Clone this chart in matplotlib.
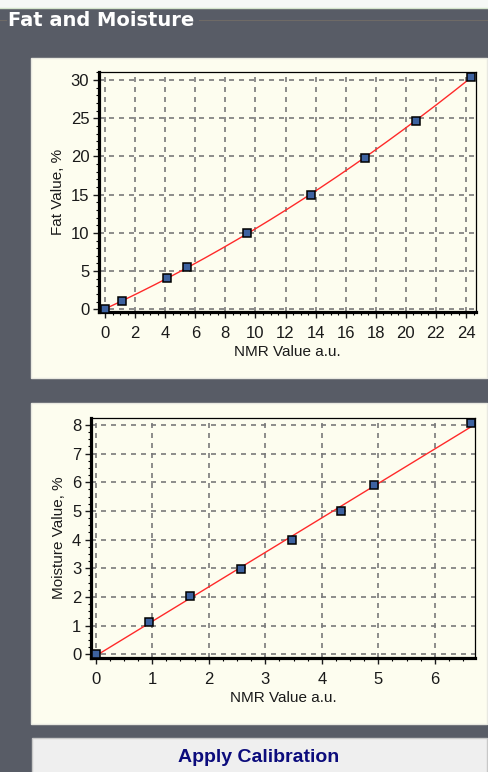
import matplotlib
matplotlib.use("Agg")
import matplotlib.pyplot as plt
import numpy as np
from matplotlib.patches import Rectangle
from matplotlib.lines import Line2D
from matplotlib.ticker import MultipleLocator

# ---- data ----
fat_nmr = [0.0, 1.15, 4.1, 5.47, 9.46, 13.68, 17.27, 20.66, 24.36]
fat_val = [0.0, 1.1, 4.1, 5.5, 9.95, 15.0, 19.85, 24.7, 30.4]
moist_nmr = [0.0, 0.94, 1.67, 2.575, 3.47, 4.34, 4.92, 6.64]
moist_val = [0.0, 1.12, 2.04, 2.96, 3.98, 5.0, 5.91, 8.08]
fat_xticks = [0, 2, 4, 6, 8, 10, 12, 14, 16, 18, 20, 22, 24]
fat_yticks = [0, 5, 10, 15, 20, 25, 30]
moist_xticks = [0, 1, 2, 3, 4, 5, 6]
moist_yticks = [0, 1, 2, 3, 4, 5, 6, 7, 8]

W, H = 489, 772
fig = plt.figure(figsize=(W / 100, H / 100), dpi=100)
fig.patch.set_facecolor('#585c66')

def px_rect(x0, y0, x1, y1, **kw):
    r = Rectangle((x0 / W, 1 - y1 / H), (x1 - x0) / W, (y1 - y0) / H,
                  transform=fig.transFigure, zorder=-10, **kw)
    fig.patches.append(r)

# top light strip
px_rect(0, 0, W, 8, facecolor='#f6f8f6', edgecolor='none')
fig.lines.append(Line2D([0, 1], [1 - 7.5 / H] * 2, transform=fig.transFigure,
                        color='#d4e4cc', lw=1, zorder=-9))
# group-box line
fig.lines.append(Line2D([0, 6 / W], [1 - 20 / H] * 2, transform=fig.transFigure,
                        color='#6e6a66', lw=0.8, zorder=-9))
fig.lines.append(Line2D([199 / W, 1], [1 - 20 / H] * 2, transform=fig.transFigure,
                        color='#6e6a66', lw=0.8, zorder=-9))
fig.text(8 / W, 1 - 21 / H, 'Fat and Moisture', color='white', fontsize=14,
         fontweight='bold', family='DejaVu Sans', va='center', ha='left')

# panels
px_rect(31, 58, 487, 378, facecolor='#fdfdef', edgecolor='#e8e8e0', lw=1)
px_rect(31, 403, 487, 724, facecolor='#fdfdef', edgecolor='#e8e8e0', lw=1)

# button
px_rect(32, 738, 487, 775, facecolor='#efefef', edgecolor='#c8c8c8', lw=1)
fig.text(259 / W, 1 - 757 / H, 'Apply Calibration', color='#0c0c7c', fontsize=14,
         fontweight='bold', family='Liberation Sans', va='center', ha='center')

def make_ax(l, r, t, b):
    return fig.add_axes([l / W, 1 - b / H, (r - l) / W, (b - t) / H])

def style(ax, xmaj, xmin, ymaj, ymin, xlabel, ylabel):
    ax.set_facecolor('#fdfdef')
    for s in ('left', 'bottom'):
        ax.spines[s].set_linewidth(2.3)
    for s in ('top', 'right'):
        ax.spines[s].set_linewidth(0.9)
    for s in ax.spines.values():
        s.set_color('black')
    ax.set_xticks(xmaj)
    ax.set_yticks(ymaj)
    ax.xaxis.set_minor_locator(MultipleLocator(xmin))
    ax.yaxis.set_minor_locator(MultipleLocator(ymin))
    ax.tick_params(which='major', direction='out', length=4, width=1,
                   labelsize=12, colors='#1a1a1a')
    ax.tick_params(axis='x', which='major', pad=6)
    ax.tick_params(axis='y', which='major', pad=3)
    ax.tick_params(which='minor', direction='out', length=2.2, width=0.8)
    for lab in ax.get_xticklabels() + ax.get_yticklabels():
        lab.set_family('Liberation Sans')
    ax.grid(True, which='major', color='#7a7a7a', lw=1.2, ls=(0, (3, 3)))
    ax.set_axisbelow(True)
    ax.set_xlabel(xlabel, fontsize=11, family='Liberation Sans', color='#1a1a1a',
                  labelpad=3)
    ax.set_ylabel(ylabel, fontsize=11, family='Liberation Sans', color='#1a1a1a',
                  labelpad=4)

# Fat plot
ax1 = make_ax(99, 476, 72, 312)
style(ax1, fat_xticks, 0.5, fat_yticks, 1, 'NMR Value a.u.', 'Fat Value, %')
ax1.set_xlim(-0.4, 24.66)
ax1.set_ylim(-0.35, 31.05)
c1 = np.polyfit(fat_nmr, fat_val, 2)
xx = np.linspace(0, max(fat_nmr), 200)
ax1.plot(xx, np.polyval(c1, xx), color='#ff2a2a', lw=1, zorder=3)
ax1.plot(fat_nmr, fat_val, ls='none', marker='s', ms=5.5, mfc='#3d62a0',
         mec='black', mew=1.1, zorder=4, clip_on=False)

# Moisture plot
ax2 = make_ax(91, 475, 418, 658)
style(ax2, moist_xticks, 0.25, moist_yticks, 0.25, 'NMR Value a.u.', 'Moisture Value, %')
ax2.set_xlim(-0.083, 6.71)
ax2.set_ylim(-0.13, 8.24)
c2 = np.polyfit(moist_nmr, moist_val, 1)
xx2 = np.linspace(0, max(moist_nmr), 100)
ax2.plot(xx2, np.polyval(c2, xx2), color='#ff2a2a', lw=1, zorder=3)
ax2.plot(moist_nmr, moist_val, ls='none', marker='s', ms=5.5, mfc='#3d62a0',
         mec='black', mew=1.1, zorder=4, clip_on=False)

fig.savefig('out.png', dpi=100, facecolor=fig.get_facecolor())
